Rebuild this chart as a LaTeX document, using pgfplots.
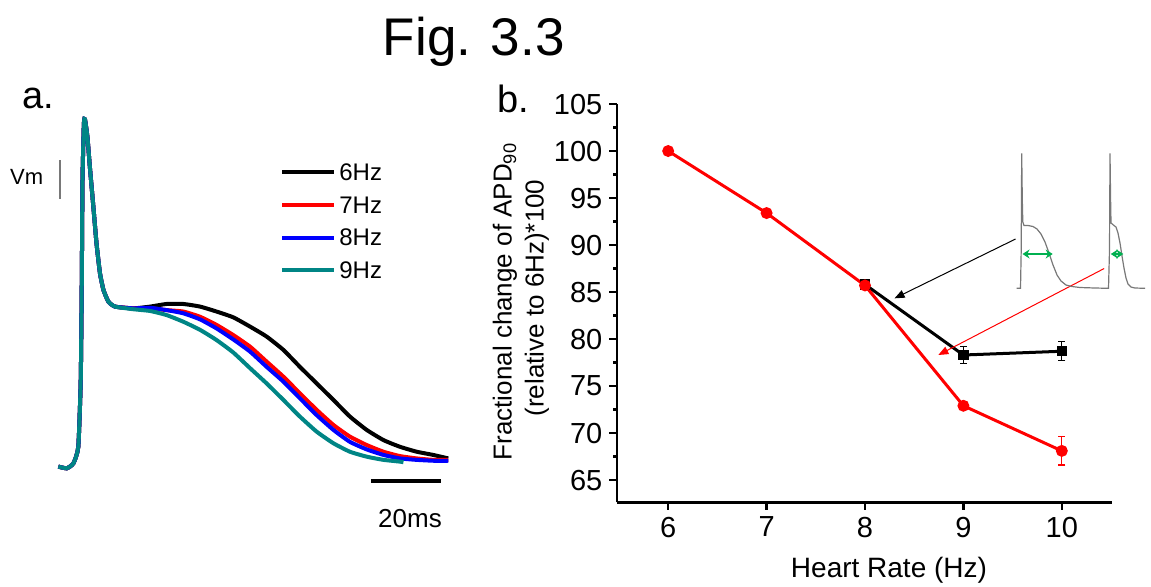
\documentclass[border=0pt]{standalone}
\usepackage{pgfplots}
\pgfplotsset{compat=1.18}
\usepackage{pgfplotstable}
\usepackage{fontspec}
\setmainfont{Liberation Sans}
\usetikzlibrary{arrows.meta}

\definecolor{tealAP}{RGB}{0,133,133}
\definecolor{apgreen}{RGB}{0,176,80}
\definecolor{apgray}{RGB}{120,120,120}
\newcommand{\fs}[2]{\fontsize{#1}{#2}\selectfont}

% panel a: action potentials, t (ms) vs Vm (mV)
\pgfplotstableread{
t V
0.1 -79.5
2.5 -80.1
4.4 -78.4
5.8 -72.7
6.5 -49.7
6.8 -15.3
7.0 19.0
7.4 38.5
7.7 39.9
8.4 33.9
9.1 23.6
10.1 9.9
11.0 -2.7
12.0 -13.1
13.0 -18.8
14.4 -22.8
16.3 -24.5
21.5 -25.1
26.3 -24.5
31.0 -23.6
35.8 -23.6
40.6 -24.5
45.3 -26.2
50.1 -28.2
54.9 -31.4
59.6 -34.8
64.4 -39.4
69.1 -45.2
73.9 -50.9
78.7 -56.6
83.4 -62.3
88.2 -66.9
93.0 -70.4
97.7 -72.7
102.5 -74.4
107.2 -75.5
111.5 -76.7
}\apSix
\pgfplotstableread{
t V
0.1 -79.5
2.5 -80.1
4.4 -78.4
5.8 -72.7
6.5 -49.7
6.8 -15.3
7.0 19.0
7.4 38.5
7.7 39.9
8.4 33.9
9.1 23.6
10.1 9.9
11.0 -2.7
12.0 -13.1
13.0 -18.8
14.4 -22.8
16.3 -24.5
21.5 -25.1
26.3 -25.1
31.0 -25.7
35.8 -26.2
40.6 -28.0
45.3 -30.8
50.1 -34.3
54.9 -38.3
59.6 -43.4
64.4 -48.6
69.1 -54.3
73.9 -60.0
78.7 -65.2
83.4 -69.2
88.2 -72.1
93.0 -74.4
97.7 -75.9
102.5 -76.7
107.2 -77.2
111.5 -77.2
}\apSeven
\pgfplotstableread{
t V
0.1 -79.5
2.5 -80.1
4.4 -78.4
5.8 -72.7
6.5 -49.7
6.8 -15.3
7.0 19.0
7.4 38.5
7.7 39.9
8.4 33.9
9.1 23.6
10.1 9.9
11.0 -2.7
12.0 -13.1
13.0 -18.8
14.4 -22.8
16.3 -24.5
21.5 -25.1
26.3 -24.9
31.0 -25.7
35.8 -26.8
40.6 -28.9
45.3 -32.0
50.1 -35.8
54.9 -40.0
59.6 -45.2
64.4 -50.3
69.1 -56.0
73.9 -61.8
78.7 -66.9
83.4 -71.0
88.2 -73.6
93.0 -75.5
97.7 -76.7
102.5 -77.2
107.2 -77.5
111.5 -77.5
}\apEight
\pgfplotstableread{
t V
0.1 -79.5
2.5 -80.1
4.4 -78.4
5.8 -72.7
6.5 -49.7
6.8 -15.3
7.0 19.0
7.4 38.5
7.7 39.9
8.4 33.9
9.1 23.6
10.1 9.9
11.0 -2.7
12.0 -13.1
13.0 -18.8
14.4 -22.8
16.3 -24.5
21.5 -25.4
26.3 -26.0
31.0 -27.4
35.8 -29.7
40.6 -32.5
45.3 -36.0
50.1 -40.3
54.9 -45.7
59.6 -50.9
64.4 -56.6
69.1 -62.3
73.9 -67.5
78.7 -71.5
83.4 -74.4
88.2 -76.1
93.0 -77.2
97.7 -77.8
98.7 -78.0
}\apNine

% panel b: APD90 change vs heart rate
\pgfplotstableread{
hz y e
6 100.0 0.2
7 93.4 0.3
8 85.7 0.3
9 72.9 0.4
10 68.1 1.5
}\apdRed
\pgfplotstableread{
hz y e
8 85.8 0.3
9 78.3 0.9
10 78.7 1.0
}\apdBlack

% inset traces (drawn in pixel units of the figure)
\pgfplotstableread{
x y
1016.7 288.3
1020.5 288.3
1021.2 250
1021.7 153.3
1022.3 200
1022.8 222
1024 225.5
1028 225.5
1033 226.5
1037 229
1041 234
1045 242
1049 253
1053 265
1057 275
1061 281
1066 285
1072 286.5
1080 287.5
1095 288
1108.5 288.3
1109.5 250
1110 153.3
1110.6 200
1111 223
1114 225.5
1116 227
1118 233
1120 243
1122 256
1124 268
1126 278
1128 284
1131 287
1135 288
1145 288.3
}\inset

\begin{document}
\begin{tikzpicture}
\useasboundingbox (0,0) rectangle (575.5pt,-293pt);

\node[anchor=base, font={\fs{26.5}{30}}] at (236.9pt,-27.5pt) {Fig. 3.3};
\node[anchor=base west, inner sep=0pt, font={\fs{19}{22}}] at (11pt,-54pt) {a.};
\node[anchor=base west, inner sep=0pt, font={\fs{19}{22}}] at (248.5pt,-56pt) {b.};

% ---- a. ----
\begin{axis}[
  at={(29pt,-234pt)}, anchor=south west,
  scale only axis, width=196pt, height=174.5pt,
  xmin=0, xmax=112, ymin=-80, ymax=40,
  hide axis, clip=false,
  legend style={at={(axis description cs:0.5663,0.8957)}, anchor=north west,
    draw=none, fill=none, inner sep=0pt, column sep=1pt, row sep=0pt,
    font={\fs{12}{14}},
    nodes={inner xsep=0.5pt, inner ysep=0pt, text height=12.3pt, text depth=4.05pt}},
  legend cell align=left,
  legend image code/.code={\draw[#1, line width=2pt] (0pt,0pt) -- (26pt,0pt);},
]
\addplot[black, line width=2pt, smooth, tension=0.3] table[x=t, y=V] {\apSix};
\addplot[red, line width=2pt, smooth, tension=0.3] table[x=t, y=V] {\apSeven};
\addplot[blue, line width=2pt, smooth, tension=0.3] table[x=t, y=V] {\apEight};
\addplot[tealAP, line width=2pt, smooth, tension=0.3] table[x=t, y=V] {\apNine};
\legend{6Hz,7Hz,8Hz,9Hz}
% scale bars
\addplot[black, line width=2pt, forget plot] coordinates {(89.4,-84.4) (109.4,-84.4)};
\addplot[apgray, line width=0.6pt, forget plot] coordinates {(0.57,25.9) (0.57,12.5)};
\end{axis}
\node[font={\fs{11}{13}}] at (13.35pt,-88.35pt) {Vm};
\node[font={\fs{13}{15}}] at (205pt,-259.15pt) {20ms};

% ---- b. ----
\begin{axis}[
  at={(308.5pt,-251.15pt)}, anchor=south west,
  scale only axis, width=247.5pt, height=199.15pt,
  xmin=5.48, xmax=10.51, ymin=62.63, ymax=105,
  axis lines=left, axis line style={-, line width=1.4pt},
  tick align=outside,
  xtick={6,7,8,9,10}, ytick={65,70,...,105},
  minor y tick num=1,
  major tick length=3.8pt, minor tick length=2pt,
  major tick style={black, line width=1.2pt},
  minor tick style={black, line width=1.2pt},
  ticklabel style={font={\fs{14.5}{16}}},
  /pgf/number format/assume math mode=true,
  clip=false,
]
\addplot[black, line width=1.5pt, mark=square*, mark size=1.8pt,
  error bars/.cd, y dir=both, y explicit,
  error bar style={black, line width=0.6pt},
  error mark options={rotate=90, mark size=1.75pt, line width=0.6pt, black}]
  table[x=hz, y=y, y error=e] {\apdBlack};
\addplot[red, line width=1.5pt, mark=*, mark size=2.2pt,
  error bars/.cd, y dir=both, y explicit,
  error bar style={red, line width=0.6pt},
  error mark options={rotate=90, mark size=1.75pt, line width=0.6pt, red}]
  table[x=hz, y=y, y error=e] {\apdRed};
% pointer arrows from the inset
\addplot[black, line width=0.5pt, -{Triangle[length=5pt, width=4pt]}]
  coordinates {(9.53,90.64) (8.30,84.33)};
\addplot[red, line width=0.5pt, -{Triangle[length=5pt, width=4pt]}]
  coordinates {(10.43,87.5) (8.745,78.3)};
\end{axis}
\node[rotate=90, font={\fs{13}{15}}] at (252.5pt,-150.75pt) {Fractional change of APD\textsubscript{90}};
\node[rotate=90, font={\fs{13}{15}}] at (268.5pt,-149pt) {(relative to 6Hz)*100};
\node[anchor=base, font={\fs{14}{16}}] at (444.5pt,-288.5pt) {Heart Rate (Hz)};

% ---- inset ----
\begin{axis}[
  at={(500pt,-150pt)}, anchor=south west,
  scale only axis, width=75.5pt, height=80pt,
  xmin=1000, xmax=1151, ymin=140, ymax=300, y dir=reverse,
  hide axis, clip=false,
]
\addplot[apgray, line width=0.6pt] table[x=x, y=y] {\inset};
\addplot[apgreen, line width=1.3pt, {Stealth[length=3.5pt, width=4.5pt]}-{Stealth[length=3.5pt, width=4.5pt]}]
  coordinates {(1022.5,254) (1052.7,254)};
\addplot[apgreen, line width=1.3pt, {Stealth[length=3.5pt, width=4.5pt]}-{Stealth[length=3.5pt, width=4.5pt]}]
  coordinates {(1110.8,254) (1123.3,254)};
\end{axis}
\end{tikzpicture}
\end{document}
